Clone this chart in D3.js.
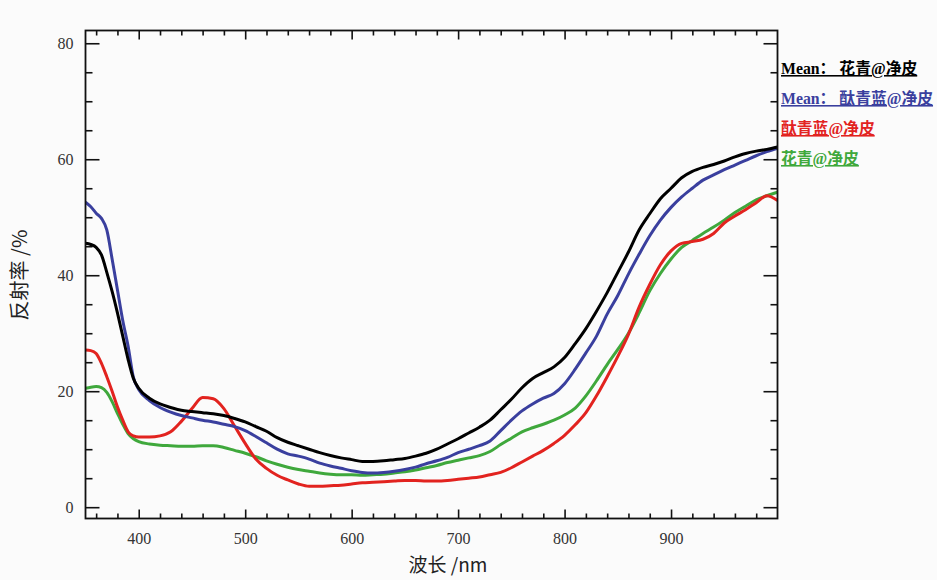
<!DOCTYPE html>
<html><head><meta charset="utf-8">
<script src="https://cdn.jsdelivr.net/npm/d3@7"></script>
<style>
html,body{margin:0;padding:0;background:#fbfbfb;}
svg{display:block;}
</style></head>
<body>
<svg id="chart" width="937" height="580"></svg>
<script>
const wavelengths = [350,355,360,365,370,375,380,385,390,395,400,410,420,430,440,450,460,470,480,490,500,510,520,530,540,550,560,570,580,590,600,610,620,630,640,650,660,670,680,690,700,710,720,730,740,750,760,770,780,790,800,810,820,830,840,850,860,870,880,890,900,910,920,930,940,950,960,970,980,990,1000];

const meanHuaqing = [45.5,45.3,44.8,43.5,40.5,37.2,33.5,29.5,25.5,22.2,20.5,18.8,17.8,17.2,16.7,16.5,16.3,16.1,15.8,15.3,14.7,13.9,13.1,12.0,11.2,10.6,10.0,9.4,8.9,8.5,8.2,7.9,7.9,8.0,8.2,8.4,8.8,9.3,10.0,10.9,11.8,12.8,13.8,15.0,16.8,18.6,20.6,22.2,23.2,24.2,25.8,28.2,30.8,33.8,37.0,40.5,44.0,47.8,50.6,53.2,55.0,56.8,57.9,58.6,59.1,59.7,60.4,61.0,61.4,61.7,62.1];

const meanTaiqinglan = [52.6,51.8,50.7,49.8,47.8,42.8,37.5,32.2,27.8,22.4,20.3,18.4,17.2,16.4,15.8,15.4,15.0,14.7,14.3,13.9,13.2,12.2,11.1,10.0,9.2,8.8,8.3,7.6,7.1,6.7,6.3,6.0,5.9,6.0,6.2,6.5,6.9,7.5,8.0,8.6,9.4,10.0,10.6,11.4,13.2,15.0,16.6,17.8,18.8,19.6,21.3,23.8,26.6,29.5,33.3,36.5,40.2,43.6,46.8,49.5,51.7,53.5,55.0,56.4,57.3,58.2,59.0,59.8,60.6,61.3,61.9];

const taiqinglan = [27.1,27.0,26.5,24.8,22.5,20.0,17.3,15.0,13.0,12.3,12.1,12.1,12.3,13.0,14.8,17.0,18.9,18.7,17.0,14.0,11.0,8.3,6.7,5.5,4.7,4.0,3.6,3.6,3.7,3.8,4.0,4.2,4.3,4.4,4.5,4.6,4.6,4.5,4.5,4.6,4.8,5.0,5.2,5.6,6.0,6.8,7.8,8.8,9.8,11.0,12.4,14.2,16.3,19.2,22.5,26.0,29.8,34.5,38.4,41.8,44.2,45.5,45.8,46.2,47.2,49.0,50.2,51.3,52.5,53.7,52.9];

const huaqing = [20.5,20.7,20.8,20.6,19.8,18.2,16.2,14.3,12.7,11.8,11.3,10.9,10.7,10.6,10.5,10.5,10.6,10.6,10.3,9.8,9.3,8.7,8.0,7.4,6.9,6.5,6.2,5.9,5.7,5.6,5.6,5.5,5.6,5.7,5.9,6.1,6.4,6.8,7.2,7.7,8.1,8.5,8.9,9.6,10.8,11.9,13.0,13.7,14.3,15.0,15.9,17.1,19.2,21.8,24.6,27.2,30.0,33.5,37.3,40.3,42.8,44.8,46.0,47.2,48.3,49.5,50.8,51.9,53.0,53.7,54.3];

const seriesNames = ["Mean： 花青@净皮","Mean： 酞青蓝@净皮","酞青蓝@净皮","花青@净皮"];
const seriesValues = [meanHuaqing, meanTaiqinglan, taiqinglan, huaqing];
const seriesColors = ["#000000","#3a3f9e","#e2231f","#3fa83c"];

const xMajorTicks = [400,500,600,700,800,900];
const xMinorTicks = d3.range(360,1000,20).filter(v => v % 100 !== 0);
const yMajorTicks = [0,20,40,60,80];
const yMinorTicks = d3.range(5,80,5).filter(v => v % 20 !== 0);

const xTitle = "波长 /nm";
const yTitle = "反射率 /%";

const svg = d3.select("#chart");
const L = 85.5, R = 777.5, T = 30.5, B = 518.5;
const x = d3.scaleLinear().domain([350,1000]).range([L,R]);
const y = d3.scaleLinear().domain([-1.95,82.2]).range([B,T]);

const tickFont = "'Liberation Serif','DejaVu Serif',serif";

function addAxis(axisFn, scale, transform, values, size, labels){
  const g = svg.append("g").attr("transform", transform)
    .call(axisFn(scale).tickValues(values).tickSizeInner(size).tickSizeOuter(0)
      .tickFormat(labels ? d3.format("d") : ""));
  g.select(".domain").remove();
  g.selectAll(".tick line").attr("stroke","#111").attr("stroke-width",1.6);
  g.selectAll(".tick text").attr("font-family",tickFont).attr("font-size",16).attr("fill","#333");
  return g;
}
const gb = addAxis(d3.axisBottom, x, `translate(0,${B})`, xMajorTicks, -9, true);
gb.selectAll(".tick text").attr("y",14).attr("dy","0.71em");
addAxis(d3.axisBottom, x, `translate(0,${B})`, xMinorTicks, -5, false);
addAxis(d3.axisTop, x, `translate(0,${T})`, xMajorTicks, -9, false);
addAxis(d3.axisTop, x, `translate(0,${T})`, xMinorTicks, -5, false);
const gl = addAxis(d3.axisLeft, y, `translate(${L},0)`, yMajorTicks, -14, true);
gl.selectAll(".tick text").attr("x",-12);
addAxis(d3.axisLeft, y, `translate(${L},0)`, yMinorTicks, -7, false);
addAxis(d3.axisRight, y, `translate(${R},0)`, yMajorTicks, -14, false);
addAxis(d3.axisRight, y, `translate(${R},0)`, yMinorTicks, -7, false);

svg.append("clipPath").attr("id","clip").append("rect")
  .attr("x",L).attr("y",T).attr("width",R-L).attr("height",B-T);

const line = d3.line()
  .x((d,i) => x(wavelengths[i]))
  .y(d => y(d))
  .curve(d3.curveMonotoneX);

const order = [3,2,1,0];
svg.append("g").attr("clip-path","url(#clip)")
  .selectAll("path").data(order).join("path")
  .attr("d", k => line(seriesValues[k]))
  .attr("fill","none")
  .attr("stroke", k => seriesColors[k])
  .attr("stroke-width",3)
  .attr("stroke-linejoin","round");

svg.append("rect").attr("x",L).attr("y",T).attr("width",R-L).attr("height",B-T)
  .attr("fill","none").attr("stroke","#111").attr("stroke-width",1.8);

const leg = svg.append("g");
seriesNames.forEach((name,i) => {
  leg.append("text")
    .attr("x", 781).attr("y", 74 + i*30)
    .attr("font-family","'Liberation Serif','Noto Sans CJK SC',serif")
    .attr("font-size",15.8).attr("font-weight","bold")
    .attr("text-decoration","underline")
    .attr("fill", seriesColors[i])
    .text(name);
});

svg.append("text").attr("x",448).attr("y",572).attr("text-anchor","middle")
  .attr("font-family","'Noto Sans CJK SC',sans-serif").attr("font-size",19).attr("fill","#222")
  .text(xTitle);
svg.append("text").attr("transform","translate(27,275) rotate(-90)").attr("text-anchor","middle")
  .attr("font-family","'Noto Sans CJK SC',sans-serif").attr("font-size",20).attr("fill","#222")
  .text(yTitle);
</script>
</body></html>
